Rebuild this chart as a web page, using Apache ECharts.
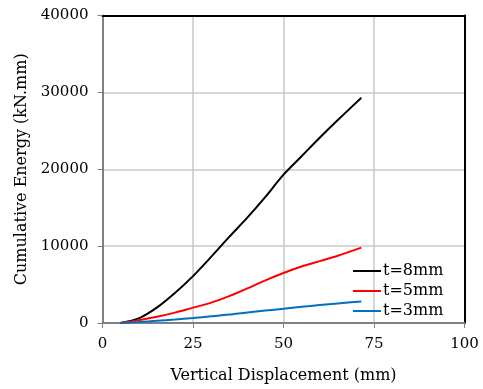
<!DOCTYPE html>
<html>
<head>
<meta charset="utf-8">
<script src="https://cdn.jsdelivr.net/npm/echarts@6/dist/echarts.min.js"></script>
<style>
  html, body { margin: 0; padding: 0; background: #fff; }
  #chart { width: 483px; height: 389px; }
</style>
</head>
<body>
<div id="chart"></div>
<script>
// displacement (mm), shared by all three curves
var dispData = [5, 10, 15, 20, 25, 30, 35, 40, 45, 50, 55, 60, 65, 71.5];
// cumulative energy (kN.mm)
var t8Data = [0, 600, 2000, 3900, 6100, 8600, 11200, 13700, 16400, 19300, 21700, 24100, 26400, 29300];
var t5Data = [0, 350, 800, 1350, 2000, 2650, 3500, 4500, 5550, 6500, 7350, 8050, 8750, 9800];
var t3Data = [0, 120, 280, 450, 650, 870, 1100, 1380, 1620, 1850, 2100, 2330, 2550, 2800];
var seriesNames = ["t=8mm", "t=5mm", "t=3mm"];
var seriesColors = ["#000000", "#ff0000", "#0070c0"];
var xTicks = [0, 25, 50, 75, 100];
var yTicks = [0, 10000, 20000, 30000, 40000];

var myChart = echarts.init(document.getElementById('chart'));
var font = "DejaVu Serif";

function pairs(ys) {
  return dispData.map(function (x, i) { return [x, ys[i]]; });
}

// hidden-label axes just to draw the black top / right frame
var frameAxis = {
  show: true,
  axisLine: { show: true, onZero: false, lineStyle: { color: "#000", width: 2 } },
  axisTick: { show: false },
  axisLabel: { show: false },
  splitLine: { show: false }
};

var option = {
  animation: false,
  textStyle: { fontFamily: font },
  grid: {
    left: 102.5,
    right: 18.5,
    top: 15.5,
    bottom: 64
  },
  legend: {
    orient: "vertical",
    left: 353,
    top: 263,
    padding: 0,
    itemGap: 4,
    itemWidth: 28,
    itemHeight: 2,
    icon: "rect",
    textStyle: { fontFamily: font, fontSize: 16, color: "#000", padding: [0, 0, 0, -3] },
    data: seriesNames
  },
  xAxis: [{
    type: "value",
    min: xTicks[0],
    max: xTicks[xTicks.length - 1],
    interval: 25,
    name: "Vertical Displacement (mm)",
    nameLocation: "middle",
    nameGap: 45,
    nameTextStyle: { fontFamily: font, fontSize: 16, color: "#000" },
    axisLine: { show: true, onZero: false, lineStyle: { color: "#808080", width: 2 } },
    axisTick: { show: true, length: 5, lineStyle: { color: "#808080", width: 1 } },
    axisLabel: { fontFamily: font, fontSize: 15, color: "#000", margin: 14 },
    splitLine: { show: true, showMinLine: false, showMaxLine: false, lineStyle: { color: "#c8c8c8", width: 1.5 } }
  }, Object.assign({
    type: "value", position: "top", min: xTicks[0], max: xTicks[xTicks.length - 1], interval: 25
  }, frameAxis)],
  yAxis: [{
    type: "value",
    min: yTicks[0],
    max: yTicks[yTicks.length - 1],
    interval: 10000,
    name: "Cumulative Energy (kN.mm)",
    nameLocation: "middle",
    nameGap: 69,
    nameTextStyle: { fontFamily: font, fontSize: 16, color: "#000" },
    axisLine: { show: true, onZero: false, lineStyle: { color: "#808080", width: 2 } },
    axisTick: { show: true, length: 5, lineStyle: { color: "#808080", width: 1 } },
    axisLabel: { fontFamily: font, fontSize: 15, color: "#000", margin: 14, formatter: function (v) { return String(v); } },
    splitLine: { show: true, showMinLine: false, showMaxLine: false, lineStyle: { color: "#c8c8c8", width: 1.5 } }
  }, Object.assign({
    type: "value", position: "right", min: yTicks[0], max: yTicks[yTicks.length - 1], interval: 10000
  }, frameAxis)],
  series: [t8Data, t5Data, t3Data].map(function (d, i) {
    return {
      name: seriesNames[i],
      type: "line",
      smooth: 0.3,
      showSymbol: false,
      data: pairs(d),
      itemStyle: { color: seriesColors[i] },
      lineStyle: { color: seriesColors[i], width: 2 }
    };
  })
};

myChart.setOption(option);
</script>
</body>
</html>
